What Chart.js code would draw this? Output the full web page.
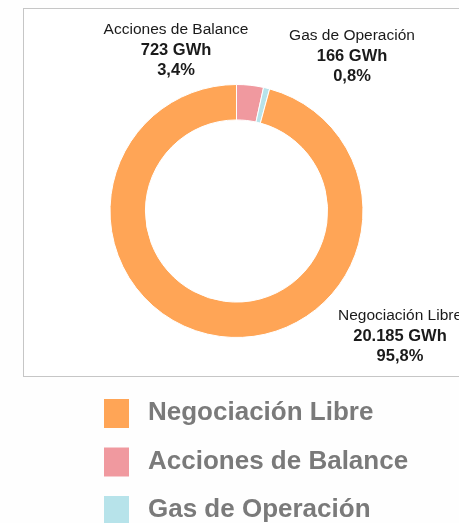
<!DOCTYPE html>
<html>
<head>
<meta charset="utf-8">
<script src="https://cdn.jsdelivr.net/npm/chart.js@4"></script>
<style>
  html, body { margin: 0; padding: 0; background: #fefefe; }
  #wrap { position: relative; width: 459px; height: 523px; overflow: hidden; }
  #box { position: absolute; left: 23px; top: 8px; width: 460px; height: 367px; border: 1px solid #c6c6c6; background: #fff; }
  #myChart { position: absolute; left: 0; top: 0; }
</style>
</head>
<body>
<div id="wrap">
  <div id="box"></div>
  <canvas id="myChart" width="459" height="523"></canvas>
</div>
<script>
// data, in drawing order (clockwise from 12 o'clock)
let categories = ['Acciones de Balance', 'Gas de Operación', 'Negociación Libre'];
let energyGWh = [723, 166, 20185];
let colors = ['#f0999f', '#b7e3ea', '#ffa556'];
// legend shows them in another order
let legendOrder = [2, 0, 1];

// where the data labels sit (centre of the first line)
let labelPos = [[176, 30], [352, 36], [400, 316]];

function fmtNumber(n) {
    return String(n).replace(/\B(?=(\d{3})+(?!\d))/g, '.');
}

let total = energyGWh.reduce((a, b) => a + b, 0);

let labelsPlugin = {
    id: 'labelsPlugin',
    afterDraw(chart) {
        let ctx = chart.ctx;
        ctx.save();
        ctx.textAlign = 'center';
        ctx.textBaseline = 'middle';
        ctx.fillStyle = '#1a1a1a';
        categories.forEach((cat, i) => {
            let [x, y] = labelPos[i];
            let pct = (energyGWh[i] / total * 100).toFixed(1).replace('.', ',') + '%';
            ctx.font = '15.5px "Liberation Sans", Arial, sans-serif';
            ctx.fillText(cat, x, y);
            ctx.font = 'bold 16.5px "Liberation Sans", Arial, sans-serif';
            ctx.fillText(fmtNumber(energyGWh[i]) + ' GWh', x, y + 20);
            ctx.fillText(pct, x, y + 40);
        });

        // legend under the box
        ctx.textAlign = 'left';
        ctx.font = 'bold 26px "Liberation Sans", Arial, sans-serif';
        legendOrder.forEach((idx, row) => {
            let cy = 413 + row * 48.5;
            ctx.fillStyle = colors[idx];
            ctx.fillRect(104, cy - 14, 25, 29);
            ctx.fillStyle = '#7a7a7a';
            ctx.fillText(categories[idx], 148, cy);
        });
        ctx.restore();
    }
};

let ctx = document.getElementById('myChart').getContext('2d');

let myChart = new Chart(ctx, {
    type: 'doughnut',
    data: {
        labels: categories,
        datasets: [{
            data: energyGWh,
            backgroundColor: colors,
            borderColor: '#ffffff',
            borderWidth: 1
        }]
    },
    options: {
        responsive: false,
        animation: false,
        cutout: '72%',
        layout: {
            padding: { left: 109, top: 84, right: 95, bottom: 185 }
        },
        plugins: {
            legend: { display: false },
            tooltip: { enabled: false }
        }
    },
    plugins: [labelsPlugin]
});
</script>
</body>
</html>
